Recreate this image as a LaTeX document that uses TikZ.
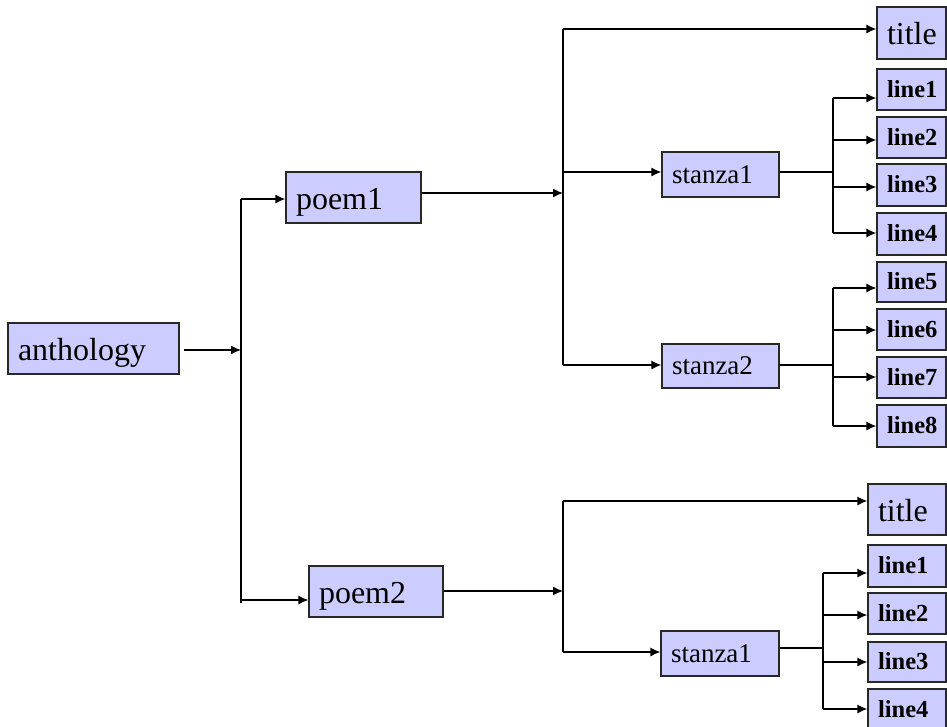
\documentclass[tikz,border=0pt]{standalone}
\usepackage{fontspec}
\setmainfont{Liberation Serif}
\usetikzlibrary{arrows.meta}
\definecolor{boxfill}{RGB}{204,204,255}
\definecolor{boxline}{RGB}{40,40,40}
\begin{document}
\begin{tikzpicture}[x=1pt,y=-1pt,
  bx/.style 2 args={draw=boxline, line width=1.2pt, fill=boxfill,
    text width=#1, minimum height=#2, inner xsep=10pt, inner ysep=0pt,
    align=left, anchor=center},
  bigtxt/.style={font=\fontsize{32}{36}\selectfont, text height=23pt, text depth=0pt},
  midtxt/.style={font=\fontsize{27}{30}\selectfont, text height=17pt, text depth=0pt},
  smalltxt/.style={font=\fontsize{24.5}{27}\selectfont\bfseries, text height=15.5pt, text depth=0pt},
  conn/.style={line width=1.3pt, black},
  arr/.style={conn, -{Latex[length=10pt,width=9pt]}}
]
\useasboundingbox (0,0) rectangle (947,726);
\fill[white] (0,0) rectangle (947,726);

% boxes
\node[bx={151pt}{51pt}, bigtxt] (anthology) at (93.5,348.5) {anthology};
\node[bx={115pt}{51pt}, bigtxt] (poem1) at (353.5,197.5) {poem1};
\node[bx={114pt}{51pt}, bigtxt] (poem2) at (376,591.5) {poem2};

\node[bx={49pt}{52pt}, bigtxt] (title1) at (911.5,33) {title};
\node[bx={97pt}{45pt}, midtxt] (s1) at (720.5,174.5) {stanza1};
\node[bx={97pt}{44pt}, midtxt] (s2) at (720.5,366) {stanza2};
\node[bx={49pt}{41pt}, smalltxt] (l1) at (911.5,89.5) {line1};
\node[bx={49pt}{41pt}, smalltxt] (l2) at (911.5,137.5) {line2};
\node[bx={49pt}{42pt}, smalltxt] (l3) at (911.5,185) {line3};
\node[bx={49pt}{42pt}, smalltxt] (l4) at (911.5,234) {line4};
\node[bx={49pt}{40pt}, smalltxt] (l5) at (911.5,282) {line5};
\node[bx={49pt}{41pt}, smalltxt] (l6) at (911.5,329.5) {line6};
\node[bx={49pt}{41pt}, smalltxt] (l7) at (911.5,377.5) {line7};
\node[bx={49pt}{42pt}, smalltxt] (l8) at (911.5,426) {line8};

\node[bx={58pt}{51pt}, bigtxt] (title2) at (907,509.5) {title};
\node[bx={98pt}{45pt}, midtxt] (s3) at (720,653.5) {stanza1};
\node[bx={58pt}{42pt}, smalltxt] (m1) at (907,566) {line1};
\node[bx={58pt}{41pt}, smalltxt] (m2) at (907,613.5) {line2};
\node[bx={58pt}{40pt}, smalltxt] (m3) at (907,662) {line3};
\node[bx={58pt}{42pt}, smalltxt] (m4) at (907,710) {line4};

% junction points
\coordinate (j0) at (241,350);
\coordinate (j1) at (563,193);
\coordinate (j2) at (563,591);

% anthology level
\draw[arr] ([xshift=4pt]anthology.east |- j0) -- (j0);
\draw[conn] (241,199) -- (241,603);
\draw[arr] (241,199) -- (poem1.west |- 0,199);
\draw[arr] (241,600) -- (poem2.west |- 0,600);

% poem1
\draw[arr] (poem1.east |- j1) -- (j1);
\draw[conn] (563,29) -- (563,365);
\draw[arr] (563,29) -- (title1.west |- 0,29);
\draw[arr] (563,172) -- (s1.west |- 0,172);
\draw[arr] (563,365) -- (s2.west |- 0,365);

\draw[conn] (s1.east |- 0,172) -- (833,172);
\draw[conn] (833,98) -- (833,233);
\draw[arr] (833,98) -- (l1.west |- 0,98);
\draw[arr] (833,140) -- (l2.west |- 0,140);
\draw[arr] (833,187) -- (l3.west |- 0,187);
\draw[arr] (833,233) -- (l4.west |- 0,233);

\draw[conn] (s2.east |- 0,365) -- (833,365);
\draw[conn] (833,288) -- (833,426);
\draw[arr] (833,288) -- (l5.west |- 0,288);
\draw[arr] (833,330) -- (l6.west |- 0,330);
\draw[arr] (833,377) -- (l7.west |- 0,377);
\draw[arr] (833,426) -- (l8.west |- 0,426);

% poem2
\draw[arr] (poem2.east |- j2) -- (j2);
\draw[conn] (563,501) -- (563,652);
\draw[arr] (563,501) -- (title2.west |- 0,501);
\draw[arr] (563,652) -- (s3.west |- 0,652);

\draw[conn] (s3.east |- 0,648) -- (823,648);
\draw[conn] (823,573) -- (823,709);
\draw[arr] (823,573) -- (m1.west |- 0,573);
\draw[arr] (823,615) -- (m2.west |- 0,615);
\draw[arr] (823,662) -- (m3.west |- 0,662);
\draw[arr] (823,709) -- (m4.west |- 0,709);
\end{tikzpicture}
\end{document}
